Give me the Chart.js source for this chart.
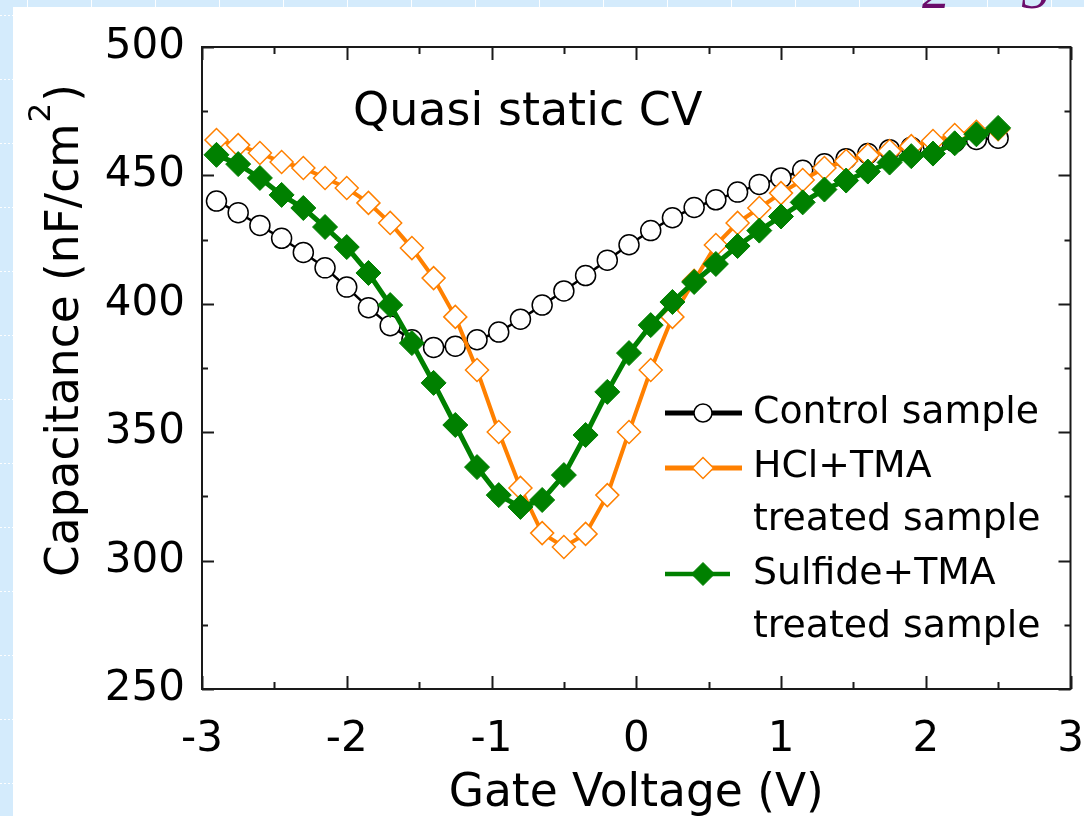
<!DOCTYPE html>
<html>
<head>
<meta charset="utf-8">
<title>Quasi static CV</title>
<script src="https://cdn.jsdelivr.net/npm/chart.js@4.4.1/dist/chart.umd.min.js"></script>
<style>
  html, body { margin: 0; padding: 0; background: #fff; }
  #cv { display: block; }
</style>
</head>
<body>
<canvas id="cv" width="1084" height="816"></canvas>
<script>
// gate voltage (V), shared by all three sweeps
const voltage = [-2.9, -2.75, -2.6, -2.45, -2.3, -2.15, -2.0, -1.85, -1.7, -1.55,
  -1.4, -1.25, -1.1, -0.95, -0.8, -0.65, -0.5, -0.35, -0.2, -0.05,
  0.1, 0.25, 0.4, 0.55, 0.7, 0.85, 1.0, 1.15, 1.3, 1.45,
  1.6, 1.75, 1.9, 2.05, 2.2, 2.35, 2.5];

// capacitance (nF/cm2)
const controlSample = [440, 435.5, 430.5, 425.5, 420, 414, 406.5, 398.5, 391.5, 386,
  383, 383.5, 386, 389, 394, 399.5, 405, 411, 417, 423,
  428.5, 433.5, 437.5, 440.5, 443.5, 446.5, 449, 452, 454.5, 456.5,
  458.5, 460, 461, 462, 463, 464, 464.5];
const hclTmaSample = [463.8, 461.8, 458.7, 455.2, 452.9, 449, 445.1, 439.3, 431.5, 421.7,
  410, 394.9, 374.2, 350.1, 328.3, 310.7, 305.3, 310.4, 325.5, 350.1,
  374.2, 394.9, 409, 422.9, 431.5, 437.3, 443.1, 448.2, 452.9, 455.6,
  457.9, 459.5, 461.4, 463.4, 465.7, 467, 468];
const sulfideTmaSample = [458, 454.4, 449, 442.4, 437.3, 429.9, 422.1, 412, 399.5, 384.7,
  369.2, 352.8, 336.4, 325.5, 320.9, 323.6, 333.3, 348.9, 365.7, 380.8,
  391.7, 400.7, 408.5, 415.5, 422.5, 428.5, 434, 439.5, 444.5, 448,
  451.5, 455, 457.5, 458.5, 462.5, 466, 468.5];

const legendLabels = [['Control sample'], ['HCl+TMA', 'treated sample'], ['Sulfide+TMA', 'treated sample']];

const FONT = "'DejaVu Sans', sans-serif";

function toPoints(ys) {
  return voltage.map((v, i) => ({ x: v, y: ys[i] }));
}

// light blue slide border behind the white panel
const slideBackground = {
  id: 'slideBackground',
  beforeDraw(chart) {
    const ctx = chart.ctx, w = chart.width, h = chart.height;
    ctx.save();
    ctx.fillStyle = '#d4ebfc';
    ctx.fillRect(0, 0, w, h);
    ctx.fillStyle = '#ffffff';
    ctx.fillRect(13, 7, w - 13, h - 7);
    ctx.strokeStyle = 'rgba(255,255,255,0.95)';
    ctx.lineWidth = 1;
    ctx.setLineDash([2, 2]);
    for (let y = 15.5; y < h; y += 64) {
      ctx.beginPath(); ctx.moveTo(0, y); ctx.lineTo(13, y); ctx.stroke();
    }
    ctx.setLineDash([]);
    for (let x = 27.5; x < w; x += 64) {
      ctx.beginPath(); ctx.moveTo(x, 0); ctx.lineTo(x, 7); ctx.stroke();
    }
    ctx.fillStyle = '#6b0d6b';
    ctx.font = "italic 56px 'Liberation Serif', serif";
    ctx.textBaseline = 'alphabetic';
    ctx.fillText('2', 922, 8);
    ctx.fillText('3', 1022, 8);
    ctx.restore();
  }
};

// box frame with inward major / minor ticks on all four sides
const frameTicks = {
  id: 'frameTicks',
  afterDatasetsDraw(chart) {
    const { ctx, chartArea: a, scales: { x, y } } = chart;
    ctx.save();
    ctx.strokeStyle = '#1a1a1a';
    ctx.lineWidth = 2;
    ctx.strokeRect(a.left, a.top, a.right - a.left, a.bottom - a.top);
    ctx.beginPath();
    for (let k = 0; k <= 12; k++) {
      const v = -3 + k * 0.5;
      const px = Math.round(x.getPixelForValue(v)) + 0.5;
      const len = k % 2 === 0 ? 13 : 7;
      ctx.moveTo(px, a.bottom); ctx.lineTo(px, a.bottom - len);
      ctx.moveTo(px, a.top); ctx.lineTo(px, a.top + len);
    }
    for (let k = 0; k <= 10; k++) {
      const v = 250 + k * 25;
      const py = Math.round(y.getPixelForValue(v)) + 0.5;
      const len = k % 2 === 0 ? 12 : 6;
      ctx.moveTo(a.left, py); ctx.lineTo(a.left + len, py);
      ctx.moveTo(a.right, py); ctx.lineTo(a.right - len, py);
    }
    ctx.stroke();
    ctx.restore();
  }
};

// texts inside the plot, y title with superscript, and the legend
const annotations = {
  id: 'annotations',
  afterDraw(chart) {
    const ctx = chart.ctx;
    ctx.save();
    ctx.fillStyle = '#000';
    ctx.textBaseline = 'alphabetic';
    ctx.textAlign = 'left';

    ctx.font = '46px ' + FONT;
    ctx.fillText('Quasi static CV', 353, 125);

    // y axis title
    ctx.save();
    ctx.translate(78, 577);
    ctx.rotate(-Math.PI / 2);
    ctx.font = '45.5px ' + FONT;
    const head = 'Capacitance (nF/cm';
    ctx.fillText(head, 0, 0);
    let off = ctx.measureText(head).width;
    ctx.font = '31px ' + FONT;
    ctx.fillText('2', off + 1, -28);
    off += ctx.measureText('2').width + 2;
    ctx.font = '45.5px ' + FONT;
    ctx.fillText(')', off, 0);
    ctx.restore();

    // legend
    const rows = [
      { lineY: 413, x1: 665, x2: 742, lw: 5, base: [423] },
      { lineY: 468, x1: 665, x2: 742, lw: 5, base: [477, 530] },
      { lineY: 574, x1: 665, x2: 730, lw: 4.5, base: [584, 637] }
    ];
    chart.data.datasets.forEach((ds, i) => {
      const r = rows[i];
      ctx.strokeStyle = ds.borderColor;
      ctx.lineWidth = r.lw;
      ctx.beginPath();
      ctx.moveTo(r.x1, r.lineY); ctx.lineTo(r.x2, r.lineY);
      ctx.stroke();
      ctx.fillStyle = ds.pointBackgroundColor;
      ctx.strokeStyle = ds.pointBorderColor;
      ctx.lineWidth = ds.pointBorderWidth;
      Chart.helpers.drawPoint(ctx, {
        pointStyle: ds.pointStyle, radius: ds.pointRadius - 1,
        rotation: 0, borderWidth: ds.pointBorderWidth
      }, 703, r.lineY);
      ctx.fillStyle = '#000';
      ctx.font = '37.8px ' + FONT;
      legendLabels[i].forEach((t, j) => ctx.fillText(t, 753, r.base[j]));
    });
    ctx.restore();
  }
};

new Chart(document.getElementById('cv'), {
  type: 'line',
  data: {
    datasets: [
      {
        label: 'Control sample',
        data: toPoints(controlSample),
        borderColor: '#000000',
        borderWidth: 2.5,
        pointStyle: 'circle',
        pointRadius: 10,
        pointBackgroundColor: '#ffffff',
        pointBorderColor: '#000000',
        pointBorderWidth: 1.5,
        order: 3
      },
      {
        label: 'HCl+TMA treated sample',
        data: toPoints(hclTmaSample),
        borderColor: '#ff8000',
        borderWidth: 4,
        pointStyle: 'rectRot',
        pointRadius: 11.5,
        pointBackgroundColor: '#ffffff',
        pointBorderColor: '#ff8000',
        pointBorderWidth: 1.5,
        order: 2
      },
      {
        label: 'Sulfide+TMA treated sample',
        data: toPoints(sulfideTmaSample),
        borderColor: '#008000',
        borderWidth: 5,
        pointStyle: 'rectRot',
        pointRadius: 12.5,
        pointBackgroundColor: '#008000',
        pointBorderColor: '#008000',
        pointBorderWidth: 1,
        order: 1
      }
    ]
  },
  options: {
    responsive: false,
    animation: false,
    devicePixelRatio: 1,
    layout: { padding: { top: 47, right: 6, left: 0, bottom: 0 } },
    plugins: { legend: { display: false }, tooltip: { enabled: false } },
    elements: { line: { tension: 0 } },
    scales: {
      x: {
        type: 'linear',
        min: -3, max: 3,
        ticks: { stepSize: 1, padding: 26, color: '#000', font: { family: FONT, size: 42 } },
        grid: { display: false, drawTicks: false },
        border: { display: false },
        title: { display: true, text: 'Gate Voltage (V)', color: '#000', padding: { top: 0, bottom: -5 }, font: { family: FONT, size: 45.5 } },
        afterFit(s) { s.height = 127; s.paddingLeft = 0; s.paddingRight = 0; }
      },
      y: {
        type: 'linear',
        min: 250, max: 500,
        ticks: { stepSize: 50, padding: 17, color: '#000', font: { family: FONT, size: 42 } },
        grid: { display: false, drawTicks: false },
        border: { display: false },
        afterFit(s) { s.width = 202; s.paddingTop = 0; s.paddingBottom = 0; }
      }
    }
  },
  plugins: [slideBackground, frameTicks, annotations]
});
</script>
</body>
</html>
